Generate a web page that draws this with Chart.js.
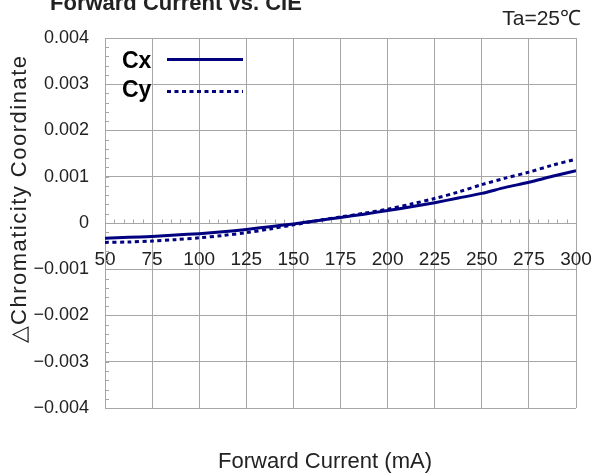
<!DOCTYPE html>
<html>
<head>
<meta charset="utf-8">
<script src="https://cdn.jsdelivr.net/npm/chart.js@4/dist/chart.umd.min.js"></script>
<style>
  html, body { margin: 0; padding: 0; background: #fff; }
  canvas { display: block; }
</style>
</head>
<body>
<canvas id="chart" width="595" height="475"></canvas>
<script>
// Values
const currents = [50, 62.5, 75, 87.5, 100, 112.5, 125, 137.5, 150, 162.5, 175, 187.5, 200, 212.5, 225, 237.5, 250, 262.5, 275, 287.5, 300];
const cxValues = [-0.00033, -0.00031, -0.00029, -0.00026, -0.00023, -0.00019, -0.00014, -0.00008, -0.00002, 0.00005, 0.00012, 0.00019, 0.00027, 0.00035, 0.00044, 0.00054, 0.00064, 0.00077, 0.00088, 0.00101, 0.00113];
const cyValues = [-0.00042, -0.00041, -0.00039, -0.00036, -0.00032, -0.00027, -0.00021, -0.00013, -0.00004, 0.00005, 0.00013, 0.00021, 0.0003, 0.00041, 0.00053, 0.00067, 0.00083, 0.00097, 0.0011, 0.00125, 0.00138];
const xTickLabels = ['50', '75', '100', '125', '150', '175', '200', '225', '250', '275', '300'];
const yTickLabels = ['\u22120.004', '\u22120.003', '\u22120.002', '\u22120.001', '0', '0.001', '0.002', '0.003', '0.004'];

const NAVY = '#000080';
const GRID = '#a6a6a6';
const TEXT = '#222';
const FONT = 'Liberation Sans, Arial, sans-serif';

// Extra texts, legend and minor ticks
const decorations = {
    id: 'decorations',
    beforeDatasetsDraw(chart) {
        const ctx = chart.ctx;
        const x = chart.scales.x;
        const y = chart.scales.y;
        ctx.save();
        ctx.strokeStyle = GRID;
        ctx.lineWidth = 1;
        ctx.beginPath();
        // minor ticks on the left axis
        for (let v = -0.004; v <= 0.0040001; v += 0.0002) {
            const py = Math.round(y.getPixelForValue(v)) + 0.5;
            ctx.moveTo(x.left, py);
            ctx.lineTo(x.left + 4, py);
        }
        // minor ticks along the zero line
        const zy = Math.round(y.getPixelForValue(0)) + 0.5;
        for (let v = 50; v <= 300; v += 5) {
            const px = Math.round(x.getPixelForValue(v)) + 0.5;
            ctx.moveTo(px, zy);
            ctx.lineTo(px, zy - 4);
        }
        ctx.stroke();
        ctx.restore();
    },
    afterDraw(chart) {
        const ctx = chart.ctx;
        ctx.save();
        ctx.fillStyle = TEXT;

        // title, cut at the top edge
        ctx.font = 'bold 22px ' + FONT;
        ctx.textAlign = 'left';
        ctx.textBaseline = 'alphabetic';
        ctx.fillText('Forward Current vs. CIE', 50, 10);

        ctx.font = '21px ' + FONT;
        ctx.textAlign = 'right';
        ctx.textBaseline = 'middle';
        ctx.fillText('Ta=25\u2103', 581, 19);

        // axis titles
        ctx.textAlign = 'center';
        ctx.font = '22px ' + FONT;
        ctx.fillText('Forward Current (mA)', 325, 462);
        ctx.save();
        ctx.translate(20, 199);
        ctx.rotate(-Math.PI / 2);
        ctx.letterSpacing = '1.5px';
        ctx.fillText('\u25B3Chromaticity Coordinate', 0, 0);
        ctx.restore();

        // legend
        ctx.font = 'bold 23px ' + FONT;
        ctx.textAlign = 'left';
        ctx.fillStyle = '#000';
        ctx.fillText('Cx', 122, 62);
        ctx.fillText('Cy', 122, 91);
        ctx.strokeStyle = NAVY;
        ctx.lineWidth = 3;
        ctx.beginPath();
        ctx.moveTo(167, 59.5);
        ctx.lineTo(243, 59.5);
        ctx.stroke();
        ctx.setLineDash([4, 3.5]);
        ctx.beginPath();
        ctx.moveTo(167, 91.5);
        ctx.lineTo(243, 91.5);
        ctx.stroke();
        ctx.restore();
    }
};

new Chart(document.getElementById('chart'), {
    type: 'line',
    data: {
        datasets: [{
            label: 'Cx',
            data: currents.map((c, i) => ({ x: c, y: cxValues[i] })),
            borderColor: NAVY,
            borderWidth: 3,
            pointRadius: 0,
            tension: 0.3
        }, {
            label: 'Cy',
            data: currents.map((c, i) => ({ x: c, y: cyValues[i] })),
            borderColor: NAVY,
            borderWidth: 3,
            borderDash: [4, 3.5],
            pointRadius: 0,
            tension: 0.3
        }]
    },
    options: {
        responsive: false,
        animation: false,
        layout: { padding: { left: 0, right: 19, top: 38, bottom: 67 } },
        plugins: {
            legend: { display: false },
            tooltip: { enabled: false }
        },
        scales: {
            x: {
                type: 'linear',
                position: { y: 0 },
                min: 50,
                max: 300,
                ticks: {
                    stepSize: 25,
                    padding: 25,
                    color: TEXT,
                    font: { family: FONT, size: 19 },
                    maxRotation: 0,
                    autoSkip: false,
                    callback: (value, index) => xTickLabels[index]
                },
                grid: { color: GRID, drawTicks: false },
                border: { color: GRID },
                afterFit: (scale) => {
                    scale.height = 0;
                    scale.paddingLeft = 0;
                    scale.paddingRight = 0;
                }
            },
            y: {
                min: -0.004,
                max: 0.004,
                ticks: {
                    stepSize: 0.001,
                    padding: 16,
                    color: TEXT,
                    font: { family: FONT, size: 18 },
                    callback: (value, index) => yTickLabels[index]
                },
                grid: { color: GRID, drawTicks: false },
                border: { color: GRID },
                afterFit: (scale) => {
                    scale.width = 105;
                    scale.paddingTop = 0;
                    scale.paddingBottom = 0;
                }
            }
        }
    },
    plugins: [decorations]
});
</script>
</body>
</html>
